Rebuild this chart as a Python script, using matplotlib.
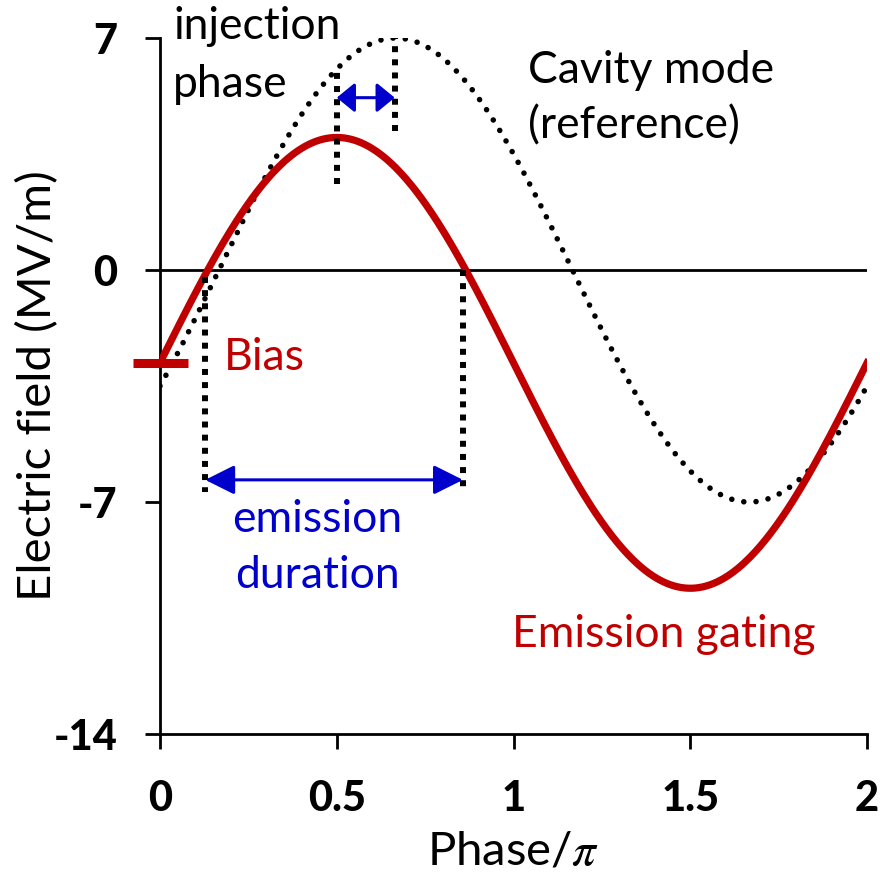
import numpy as np
import matplotlib
matplotlib.use('Agg')
import matplotlib.pyplot as plt

plt.rcParams['font.family'] = ['Lato', 'DejaVu Sans']
plt.rcParams['mathtext.fontset'] = 'stix'

# phase axis in units of pi
phase_min, phase_max = 0.0, 2.0
field_ticks = [7, 0, -7, -14]
phase_ticks = [0, 0.5, 1, 1.5, 2]
phase_ticklabels = ['0', '0.5', '1', '1.5', '2']

# emission gating field: bias + amplitude * sin(phase)
gating_bias = -2.8
gating_amp = 6.8
# cavity mode (reference): amplitude and phase lag (in units of pi)
cavity_amp = 7.0
cavity_lag = 1 / 6

# marker positions
injection_phase = [0.5, 0.664]
injection_arrow_y = 5.2
emission_window = [0.128, 0.857]
emission_arrow_y = -6.33

RED = '#C00000'
BLUE = '#0000CC'

phase = np.linspace(phase_min, phase_max, 400)
gating = gating_bias + gating_amp * np.sin(np.pi * phase)
cavity = cavity_amp * np.sin(np.pi * (phase - cavity_lag))

fig = plt.figure(figsize=(8.8, 8.76), dpi=100)
ax = fig.add_axes([0.1818, 0.162, 0.8035, 0.7946])

# zero line
ax.plot([phase_min, phase_max], [0, 0], color='black', lw=2, zorder=1)

# cavity mode, round dots
ax.plot(phase, cavity, color='black', lw=4, dash_capstyle='round',
        linestyle=(0, (0.01, 2.2)), zorder=2)

# emission gating
ax.plot(phase, gating, color=RED, lw=5.2, zorder=3)

# bias marker on the axis
ax.plot([-0.075, 0.08], [gating_bias, gating_bias], color=RED, lw=6.5,
        solid_capstyle='butt', clip_on=False, zorder=4)

# vertical guide lines (square dots)
guide = dict(color='black', lw=4.3, linestyle=(0, (1.0, 1.2)),
             dash_capstyle='butt', zorder=5)
ax.plot([injection_phase[0]] * 2, [2.6, cavity_amp * np.sin(np.pi * (injection_phase[0] - cavity_lag))], **guide)
ax.plot([injection_phase[1]] * 2, [4.2, 7.8], **guide)
ax.plot([emission_window[0]] * 2, [-0.2, -6.7], **guide)
ax.plot([emission_window[1]] * 2, [0.0, -6.7], **guide)

# arrows
ax.annotate('', xy=(injection_phase[1], injection_arrow_y),
            xytext=(injection_phase[0], injection_arrow_y),
            arrowprops=dict(arrowstyle='<|-|>,head_length=0.55,head_width=0.45',
                            color=BLUE, lw=2.2, shrinkA=0, shrinkB=0,
                            mutation_scale=20), zorder=6)
ax.annotate('', xy=(emission_window[1], emission_arrow_y),
            xytext=(emission_window[0], emission_arrow_y),
            arrowprops=dict(arrowstyle='<|-|>,head_length=0.9,head_width=0.45',
                            color=BLUE, lw=2.2, shrinkA=0, shrinkB=0,
                            mutation_scale=20), zorder=6)

# annotations
fs = 32
ax.text(0.037, 6.97, 'injection', fontsize=fs, va='baseline', ha='left', clip_on=False)
ax.text(0.037, 5.22, 'phase', fontsize=fs, va='baseline', ha='left', clip_on=False)
ax.text(1.04, 5.64, 'Cavity mode', fontsize=fs, va='baseline', ha='left')
ax.text(1.04, 3.98, '(reference)', fontsize=fs, va='baseline', ha='left')
ax.text(0.181, -3.02, 'Bias', fontsize=fs, va='baseline', ha='left', color=RED)
ax.text(0.444, -7.9, 'emission', fontsize=fs, va='baseline', ha='center', color=BLUE)
ax.text(0.444, -9.6, 'duration', fontsize=fs, va='baseline', ha='center', color=BLUE)
ax.text(0.997, -11.38, 'Emission gating', fontsize=fs, va='baseline', ha='left', color=RED)

ax.set_xlim(phase_min, phase_max)
ax.set_ylim(-14, 7)
ax.set_xticks(phase_ticks)
ax.set_xticklabels(phase_ticklabels)
ax.set_yticks(field_ticks)
ax.set_yticklabels([str(t) for t in field_ticks])
for lab in ax.get_xticklabels() + ax.get_yticklabels():
    lab.set_fontweight('black')
    lab.set_fontsize(30)

ax.tick_params(direction='out', length=10.8, width=2, colors='black')
ax.tick_params(axis='x', pad=22)
ax.tick_params(axis='y', pad=20)
for side in ['top', 'right']:
    ax.spines[side].set_visible(False)
for side in ['left', 'bottom']:
    ax.spines[side].set_linewidth(2)

ax.set_xlabel(r'Phase/$\pi$', fontsize=34, labelpad=9)
ax.set_ylabel('Electric field (MV/m)', fontsize=34, va='center')
ax.yaxis.set_label_coords(-0.1726, 0.5)

fig.savefig('out.png', dpi=100)
